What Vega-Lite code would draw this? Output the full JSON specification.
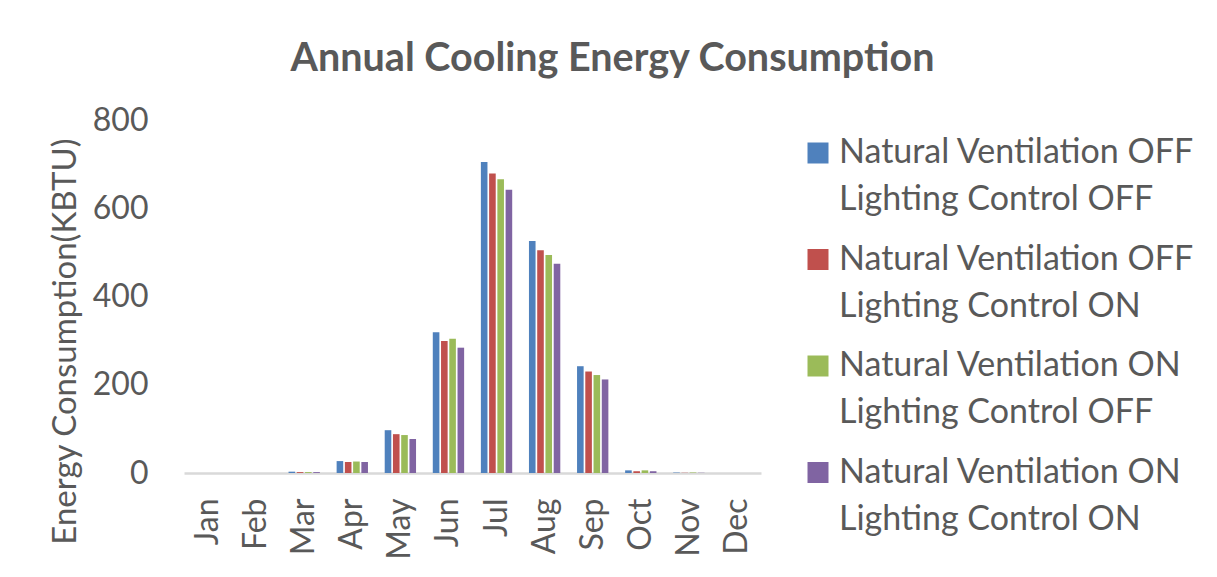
{
  "$schema": "https://vega.github.io/schema/vega-lite/v6.json",
  "autosize": "none",
  "width": 577,
  "height": 353,
  "padding": {"left": 184, "top": 120, "right": 456, "bottom": 104},
  "background": "white",
  "title": {
    "text": "Annual Cooling Energy Consumption",
    "anchor": "middle",
    "frame": "group",
    "dx": 140,
    "baseline": "alphabetic",
    "offset": -6,
    "font": "Lato",
    "fontSize": 39.5,
    "fontWeight": "bold",
    "color": "#595959"
  },
  "config": {
    "view": {"stroke": null},
    "font": "Lato"
  },
  "data": {
    "values": [
      {"month": "Jan", "series": "Natural Ventilation OFF Lighting Control OFF", "kbtu": 0},
      {"month": "Jan", "series": "Natural Ventilation OFF Lighting Control ON", "kbtu": 0},
      {"month": "Jan", "series": "Natural Ventilation ON Lighting Control OFF", "kbtu": 0},
      {"month": "Jan", "series": "Natural Ventilation ON Lighting Control ON", "kbtu": 0},
      {"month": "Feb", "series": "Natural Ventilation OFF Lighting Control OFF", "kbtu": 0},
      {"month": "Feb", "series": "Natural Ventilation OFF Lighting Control ON", "kbtu": 0},
      {"month": "Feb", "series": "Natural Ventilation ON Lighting Control OFF", "kbtu": 0},
      {"month": "Feb", "series": "Natural Ventilation ON Lighting Control ON", "kbtu": 0},
      {"month": "Mar", "series": "Natural Ventilation OFF Lighting Control OFF", "kbtu": 3},
      {"month": "Mar", "series": "Natural Ventilation OFF Lighting Control ON", "kbtu": 2},
      {"month": "Mar", "series": "Natural Ventilation ON Lighting Control OFF", "kbtu": 2},
      {"month": "Mar", "series": "Natural Ventilation ON Lighting Control ON", "kbtu": 2},
      {"month": "Apr", "series": "Natural Ventilation OFF Lighting Control OFF", "kbtu": 27},
      {"month": "Apr", "series": "Natural Ventilation OFF Lighting Control ON", "kbtu": 25},
      {"month": "Apr", "series": "Natural Ventilation ON Lighting Control OFF", "kbtu": 26},
      {"month": "Apr", "series": "Natural Ventilation ON Lighting Control ON", "kbtu": 25},
      {"month": "May", "series": "Natural Ventilation OFF Lighting Control OFF", "kbtu": 97},
      {"month": "May", "series": "Natural Ventilation OFF Lighting Control ON", "kbtu": 88},
      {"month": "May", "series": "Natural Ventilation ON Lighting Control OFF", "kbtu": 86},
      {"month": "May", "series": "Natural Ventilation ON Lighting Control ON", "kbtu": 77},
      {"month": "Jun", "series": "Natural Ventilation OFF Lighting Control OFF", "kbtu": 319},
      {"month": "Jun", "series": "Natural Ventilation OFF Lighting Control ON", "kbtu": 299},
      {"month": "Jun", "series": "Natural Ventilation ON Lighting Control OFF", "kbtu": 304},
      {"month": "Jun", "series": "Natural Ventilation ON Lighting Control ON", "kbtu": 284},
      {"month": "Jul", "series": "Natural Ventilation OFF Lighting Control OFF", "kbtu": 705},
      {"month": "Jul", "series": "Natural Ventilation OFF Lighting Control ON", "kbtu": 679},
      {"month": "Jul", "series": "Natural Ventilation ON Lighting Control OFF", "kbtu": 666},
      {"month": "Jul", "series": "Natural Ventilation ON Lighting Control ON", "kbtu": 642},
      {"month": "Aug", "series": "Natural Ventilation OFF Lighting Control OFF", "kbtu": 526},
      {"month": "Aug", "series": "Natural Ventilation OFF Lighting Control ON", "kbtu": 505},
      {"month": "Aug", "series": "Natural Ventilation ON Lighting Control OFF", "kbtu": 494},
      {"month": "Aug", "series": "Natural Ventilation ON Lighting Control ON", "kbtu": 474},
      {"month": "Sep", "series": "Natural Ventilation OFF Lighting Control OFF", "kbtu": 242},
      {"month": "Sep", "series": "Natural Ventilation OFF Lighting Control ON", "kbtu": 230},
      {"month": "Sep", "series": "Natural Ventilation ON Lighting Control OFF", "kbtu": 222},
      {"month": "Sep", "series": "Natural Ventilation ON Lighting Control ON", "kbtu": 212},
      {"month": "Oct", "series": "Natural Ventilation OFF Lighting Control OFF", "kbtu": 6},
      {"month": "Oct", "series": "Natural Ventilation OFF Lighting Control ON", "kbtu": 4},
      {"month": "Oct", "series": "Natural Ventilation ON Lighting Control OFF", "kbtu": 6},
      {"month": "Oct", "series": "Natural Ventilation ON Lighting Control ON", "kbtu": 4},
      {"month": "Nov", "series": "Natural Ventilation OFF Lighting Control OFF", "kbtu": 1},
      {"month": "Nov", "series": "Natural Ventilation OFF Lighting Control ON", "kbtu": 0.5},
      {"month": "Nov", "series": "Natural Ventilation ON Lighting Control OFF", "kbtu": 1},
      {"month": "Nov", "series": "Natural Ventilation ON Lighting Control ON", "kbtu": 0.5},
      {"month": "Dec", "series": "Natural Ventilation OFF Lighting Control OFF", "kbtu": 0},
      {"month": "Dec", "series": "Natural Ventilation OFF Lighting Control ON", "kbtu": 0},
      {"month": "Dec", "series": "Natural Ventilation ON Lighting Control OFF", "kbtu": 0},
      {"month": "Dec", "series": "Natural Ventilation ON Lighting Control ON", "kbtu": 0}
    ]
  },
  "mark": {"type": "bar"},
  "encoding": {
    "x": {
      "field": "month",
      "type": "nominal",
      "sort": ["Jan", "Feb", "Mar", "Apr", "May", "Jun", "Jul", "Aug", "Sep", "Oct", "Nov", "Dec"],
      "scale": {"paddingInner": 0.314, "paddingOuter": 0.157},
      "axis": {
        "title": null,
        "labelAngle": -90,
        "labelAlign": "right",
        "labelBaseline": "middle",
        "labelPadding": 25,
        "labelFont": "Lato",
        "labelFontSize": 32,
        "labelColor": "#595959",
        "ticks": false,
        "domainColor": "#d9d9d9",
        "domainWidth": 2.5
      }
    },
    "xOffset": {
      "field": "series",
      "type": "nominal",
      "scale": {"paddingInner": 0.2, "paddingOuter": 0.1}
    },
    "y": {
      "field": "kbtu",
      "type": "quantitative",
      "scale": {"domain": [0, 800], "nice": false},
      "axis": {
        "title": "Energy Consumption(KBTU)",
        "values": [0, 200, 400, 600, 800],
        "grid": false,
        "domain": false,
        "ticks": false,
        "labelPadding": 36,
        "labelFont": "Lato",
        "labelFontSize": 32,
        "labelColor": "#595959",
        "titleFont": "Lato",
        "titleFontSize": 33,
        "titleFontWeight": "normal",
        "titleColor": "#595959",
        "titleX": -119,
        "titleY": 221,
        "titleAlign": "center",
        "titleBaseline": "middle",
        "titleAngle": -90
      }
    },
    "color": {
      "field": "series",
      "type": "nominal",
      "scale": {
        "domain": [
          "Natural Ventilation OFF Lighting Control OFF",
          "Natural Ventilation OFF Lighting Control ON",
          "Natural Ventilation ON Lighting Control OFF",
          "Natural Ventilation ON Lighting Control ON"
        ],
        "range": ["#4F81BD", "#C0504D", "#9BBB59", "#8064A2"]
      },
      "legend": {
        "title": null,
        "orient": "none",
        "legendX": 617,
        "legendY": 16,
        "padding": 0,
        "symbolType": "square",
        "symbolSize": 441,
        "symbolStrokeWidth": 0,
        "labelFont": "Lato",
        "labelFontSize": 34,
        "labelColor": "#595959",
        "labelOffset": 4,
        "labelLimit": 500,
        "rowPadding": 25.5,
        "labelExpr": "[slice(datum.label, 0, indexof(datum.label, ' Lighting')), slice(datum.label, indexof(datum.label, ' Lighting') + 1)]",
        "encode": {
          "labels": {"update": {"lineHeight": {"value": 47}}}
        }
      }
    }
  }
}
